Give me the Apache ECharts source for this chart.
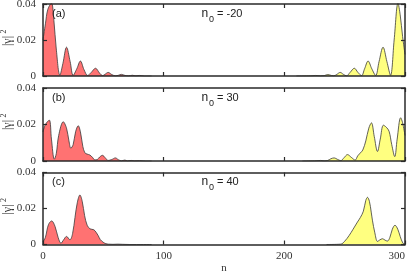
<!DOCTYPE html>
<html><head><meta charset="utf-8">
<script src="https://cdn.jsdelivr.net/npm/echarts@6/dist/echarts.min.js"></script>
<style>html,body{margin:0;padding:0;background:#fff}#c{width:415px;height:273px}</style>
</head><body><div id="c"></div>
<script>
const xTicks = [0, 100, 200, 300];
const yTicks = [0, 0.02, 0.04];
const panelLabels = ['(a)', '(b)', '(c)'];
const n0Values = ['-20', '30', '40'];

// panel (a), n0 = -20
const leftA = [[0,0.02],[2,0.029],[4,0.037],[7,0.0405],[9,0.031],[11,0.015],[14,0.0005],[16.5,0.007],[19.5,0.016],[22.5,0.008],[25,0.0004],[28,0.004],[31,0.0083],[34,0.0035],[37,0.0003],[40,0.002],[43.5,0.0043],[47,0.0015],[49.5,0.0002],[51.5,0.001],[54,0.002],[57,0.0008],[60,0.0001],[62.5,0.0004],[65,0.0009],[68,0.0003],[71,0.0001],[74,0.0004],[77,0.0001],[80,0.0003],[84,0],[90,0]];
const rightA = [[210,0],[222,0.0001],[226,0.0003],[230,0.0001],[233,0.0002],[236,0.0008],[239,0.0003],[241,0.0001],[243.5,0.0009],[246.3,0.002],[249,0.0009],[251.5,0.0001],[254.5,0.002],[258,0.0043],[261,0.002],[264,0.0002],[266.5,0.004],[269.4,0.0083],[272.5,0.004],[275.7,0.0003],[278.5,0.008],[281.8,0.016],[285,0.008],[288,0.0004],[291,0.02],[294.2,0.0405],[296,0.034],[298,0.022],[300,0.012]];
// panel (b), n0 = 30
const leftB = [[0,0.016],[2,0.02],[5.2,0.0224],[7,0.012],[9.4,0.001],[11,0.004],[13,0.014],[16.8,0.0215],[19.5,0.018],[21.5,0.011],[23.1,0.007],[25,0.009],[27,0.016],[29.2,0.0193],[31,0.016],[33,0.008],[34.7,0.0045],[36.5,0.0038],[38.8,0.0033],[41,0.002],[43,0.0006],[45,0.0008],[47,0.0022],[49.3,0.0031],[51.5,0.0018],[54,0.0003],[57,0.0008],[60,0.0017],[62.5,0.0007],[65,0.0001],[67.8,0.0005],[70,0.0001],[73,0.0003],[76,0.0001],[80,0.0002],[85,0],[90,0]];
const rightB = [[215,0],[225,0.0001],[230,0.0003],[233,0.0001],[236,0.0003],[238.5,0.0012],[241.3,0.0017],[244,0.0009],[246.8,0.0002],[249.5,0.0018],[252.3,0.0035],[255.5,0.002],[258.7,0.0005],[260.8,0.0028],[262.8,0.0043],[265,0.006],[267.5,0.011],[270,0.018],[272.2,0.0209],[274.5,0.0135],[277.2,0.0052],[279.5,0.012],[282.1,0.0196],[284.5,0.0185],[286.8,0.0163],[289,0.009],[291.5,0.0024],[293.5,0.012],[296.4,0.0237],[298,0.021],[300,0.014]];
// panel (c), n0 = 40
const leftC = [[0,0.0015],[2,0.004],[4.5,0.011],[7.2,0.0131],[10,0.01],[12.5,0.004],[14.9,0.0007],[17,0.0025],[19.5,0.0045],[22.3,0.0026],[24.5,0.006],[26.5,0.015],[28.5,0.0235],[30.6,0.0275],[32.5,0.024],[34.5,0.016],[36.6,0.0107],[39,0.0087],[42.1,0.0082],[44,0.0068],[45.7,0.005],[47.5,0.0027],[49.8,0.0013],[52,0.0005],[54,0.0002],[58,0.0001],[62,0.0002],[66,0.0001],[72,0],[90,0]];
const rightC = [[235,0],[246.8,0.0002],[250,0.0018],[253.7,0.005],[257,0.0085],[260.6,0.0125],[263,0.015],[265.5,0.0185],[267.5,0.0245],[268.9,0.0262],[270.5,0.024],[272,0.018],[273,0.0135],[275,0.0065],[277.2,0.0017],[279,0.0025],[281.3,0.0032],[283.5,0.0024],[285.4,0.0019],[287.5,0.004],[289.5,0.0085],[291.7,0.0107],[294,0.0085],[296,0.0045],[298.3,0.0007],[300,0.0002]];

const leftSeries = [leftA, leftB, leftC];
const rightSeries = [rightA, rightB, rightC];

const grids = [
  {left: 43, top: 4, width: 362, height: 72, outerBoundsMode: 'none', containLabel: false},
  {left: 43, top: 88, width: 362, height: 73, outerBoundsMode: 'none', containLabel: false},
  {left: 43, top: 172.5, width: 362, height: 72, outerBoundsMode: 'none', containLabel: false}
];
const frame = '#2a2a2a';
const serif = '"Liberation Serif","DejaVu Serif",serif';
const sans = '"Liberation Sans",Arial,sans-serif';

const xAxis = [], yAxis = [], series = [], graphic = [];
grids.forEach((g, i) => {
  const baseX = {gridIndex: i, type: 'value', min: xTicks[0], max: xTicks[xTicks.length-1], interval: 100, z: 10,
    splitLine: {show: false},
    axisLine: {show: true, onZero: false, lineStyle: {color: frame, width: 1.5}},
    axisTick: {show: true, inside: true, length: 4, lineStyle: {color: frame, width: 1.2}}};
  xAxis.push(Object.assign({}, baseX, {position: 'bottom',
    axisLabel: {show: i === 2, fontFamily: serif, fontSize: 11, color: '#333', margin: 6, alignMaxLabel: 'right'},
    name: i === 2 ? 'n' : '', nameLocation: 'middle', nameGap: 18,
    nameTextStyle: {fontFamily: serif, fontSize: 11, color: '#333'}}));
  xAxis.push(Object.assign({}, baseX, {position: 'top', axisLabel: {show: false}}));
  const baseY = {gridIndex: i, type: 'value', min: yTicks[0], max: yTicks[yTicks.length-1], interval: 0.02, z: 10,
    splitLine: {show: false},
    axisLine: {show: true, onZero: false, lineStyle: {color: frame, width: 1.5}},
    axisTick: {show: true, inside: true, length: 4, lineStyle: {color: frame, width: 1.2}}};
  yAxis.push(Object.assign({}, baseY, {position: 'left',
    axisLabel: {show: true, fontFamily: serif, fontSize: 11, color: '#333', margin: 7,
      formatter: v => v === 0 ? '0' : v.toFixed(2)}}));
  yAxis.push(Object.assign({}, baseY, {position: 'right', axisLabel: {show: false}}));

  const common = {type: 'line', xAxisIndex: 2*i, yAxisIndex: 2*i, symbol: 'none', smooth: 0.35,
    lineStyle: {color: '#3a3a3a', width: 0.8}, clip: true, z: 3};
  series.push(Object.assign({}, common, {data: leftSeries[i], areaStyle: {color: '#ff7272', opacity: 1}}));
  series.push(Object.assign({}, common, {data: rightSeries[i], areaStyle: {color: '#ffff80', opacity: 1}}));

  // y-axis title |γ|² (rotated, reading upward)
  graphic.push({type: 'text', x: 7.5, y: g.top + 37, rotation: Math.PI / 2, z: 20,
    style: {text: '|γ|', font: '12px ' + serif, fill: '#333', align: 'center', verticalAlign: 'middle'}});
  graphic.push({type: 'text', x: 4, y: g.top + 27.5, rotation: Math.PI / 2, z: 20,
    style: {text: '2', font: '8px ' + serif, fill: '#333', align: 'center', verticalAlign: 'middle'}});
  graphic.push({type: 'text', left: 52, top: g.top + 4, z: 20,
    style: {text: panelLabels[i], font: '11px ' + sans, fill: '#222'}});
  graphic.push({type: 'text', x: 201.5, y: g.top + 9.5, z: 20,
    style: {text: 'n', font: '12px ' + sans, fill: '#222', verticalAlign: 'middle'}});
  graphic.push({type: 'text', x: 209, y: g.top + 15.5, z: 20,
    style: {text: '0', font: '9px ' + sans, fill: '#222', verticalAlign: 'middle'}});
  graphic.push({type: 'text', x: 217, y: g.top + 9.5, z: 20,
    style: {text: '= ' + n0Values[i], font: '11px ' + sans, fill: '#222', verticalAlign: 'middle'}});
});

const chart = echarts.init(document.getElementById('c'), null, {renderer: 'canvas'});
chart.setOption({animation: false, backgroundColor: '#fff', grid: grids, xAxis, yAxis, series, graphic});
</script></body></html>
